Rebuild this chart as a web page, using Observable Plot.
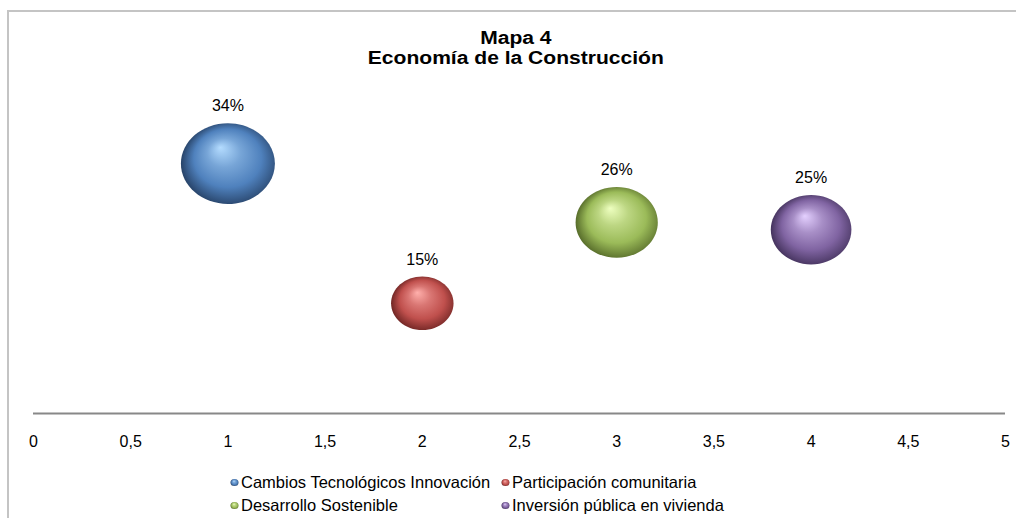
<!DOCTYPE html>
<html><head><meta charset="utf-8">
<script src="https://cdn.jsdelivr.net/npm/d3@7"></script>
<script src="https://cdn.jsdelivr.net/npm/@observablehq/plot@0.6"></script>
<style>
body{margin:0;background:#fff;font-family:"Liberation Sans",Arial,sans-serif;}
#wrap{position:relative;width:1016px;height:518px;overflow:hidden;background:#fff;}
#frame{position:absolute;left:7px;top:10px;width:1020px;height:520px;border-top:2px solid #c4c4c4;border-left:2px solid #c4c4c4;}
#title{position:absolute;top:28px;left:0;width:1032px;text-align:center;font-weight:bold;font-size:18px;line-height:20px;color:#000;transform:scaleX(1.17);transform-origin:517px 0;}
#chart{position:absolute;top:70px;left:0;}
#legend{position:absolute;top:471px;left:230px;display:grid;grid-template-columns:271px auto;grid-auto-rows:23px;font-size:16.5px;color:#000;}
#legend .item{display:flex;align-items:center;white-space:nowrap;}
#legend svg{margin-right:2px;}
</style>
</head><body>
<svg width="0" height="0" style="position:absolute">
  <defs id="defs"></defs>
</svg>
<div id="wrap">
  <div id="frame"></div>
  <div id="title">Mapa 4<br>Economía de la Construcción</div>
  <div id="chart"></div>
  <div id="legend"></div>
</div>
<script>
// ---- data ----
const categories = ["Cambios Tecnológicos Innovación", "Participación comunitaria", "Desarrollo Sostenible", "Inversión pública en vivienda"];
const xValues = [1, 2, 3, 4];
const percentages = [34, 15, 26, 25];
const xTicks = [0, 0.5, 1, 1.5, 2, 2.5, 3, 3.5, 4, 4.5, 5];
// sphere colors: highlight, base, dark
const baseColors = ["#4f81bd", "#c0504d", "#9bbb59", "#8064a2"];
const lightColors = ["#b4dcff", "#ffb0ac", "#eeffc0", "#e4d0ff"];
const darkColors = ["#182c48", "#521614", "#3e4f1a", "#2e2044"];

// gradients
const defs = document.getElementById("defs");
const ns = "http://www.w3.org/2000/svg";
categories.forEach((c, i) => {
  const g = document.createElementNS(ns, "radialGradient");
  g.setAttribute("id", "sph" + i);
  g.setAttribute("cx", "0.55"); g.setAttribute("cy", "0.52"); g.setAttribute("r", "0.6");
  g.setAttribute("fx", "0.42"); g.setAttribute("fy", "0.3");
  [[0, lightColors[i]], [0.3, d3.interpolateRgb(lightColors[i], baseColors[i])(0.6)], [0.6, baseColors[i]], [0.82, d3.interpolateRgb(baseColors[i], darkColors[i])(0.55)], [1, darkColors[i]]].forEach(([o, col]) => {
    const s = document.createElementNS(ns, "stop");
    s.setAttribute("offset", o); s.setAttribute("stop-color", col);
    g.appendChild(s);
  });
  defs.appendChild(g);
});
const fills = categories.map((c, i) => `url(#sph${i})`);

const data = categories.map((c, i) => ({category: c, x: xValues[i], value: percentages[i]}));

const ASPECT = 0.86;
const ellipse = {
  draw(ctx, size) {
    const rx = Math.sqrt(size / Math.PI), ry = rx * ASPECT, k = 0.5523;
    ctx.moveTo(rx, 0);
    ctx.bezierCurveTo(rx, k * ry, k * rx, ry, 0, ry);
    ctx.bezierCurveTo(-k * rx, ry, -rx, k * ry, -rx, 0);
    ctx.bezierCurveTo(-rx, -k * ry, -k * rx, -ry, 0, -ry);
    ctx.bezierCurveTo(k * rx, -ry, rx, -k * ry, rx, 0);
    ctx.closePath();
  }
};

const chart = Plot.plot({
  width: 1016,
  height: 395,
  marginLeft: 33,
  marginRight: 11,
  marginTop: 49,
  marginBottom: 52,
  style: {fontFamily: "'Liberation Sans', Arial, sans-serif", fontSize: "16px", color: "#000", background: "transparent"},
  x: {domain: [0, 5], label: null},
  y: {domain: [0, 40], axis: null},
  r: {type: "sqrt", domain: [0, d3.max(percentages)], range: [0, 47]},
  color: {domain: categories, range: fills},
  marks: [
    Plot.axisX({ticks: xTicks, tickFormat: d => String(d).replace(".", ","), tickSize: 0, tickPadding: 22, fontSize: 16, fill: "#000", label: null}),
    Plot.ruleY([0], {stroke: "#888", strokeWidth: 2}),
    Plot.dot(data, {x: "x", y: "value", r: "value", fill: "category", symbol: ellipse, stroke: "none"}),
    Plot.text(data, {
      x: "x", y: "value", text: d => d.value + "%", fontSize: 16, fill: "#000",
      render(index, scales, values, dimensions, context, next) {
        const y = Float64Array.from(values.y, (v, i) => v - scales.r(data[i].value) * ASPECT - 17);
        return next(index, scales, {...values, y}, dimensions, context);
      }
    })
  ]
});
document.getElementById("chart").appendChild(chart);

// legend
const legend = document.getElementById("legend");
categories.forEach((c, i) => {
  const item = document.createElement("div");
  item.className = "item";
  item.innerHTML = `<svg width="9" height="9"><ellipse cx="4.5" cy="4.5" rx="4" ry="3.6" fill="${fills[i]}"/></svg><span>${c}</span>`;
  legend.appendChild(item);
});
</script>
</body></html>
